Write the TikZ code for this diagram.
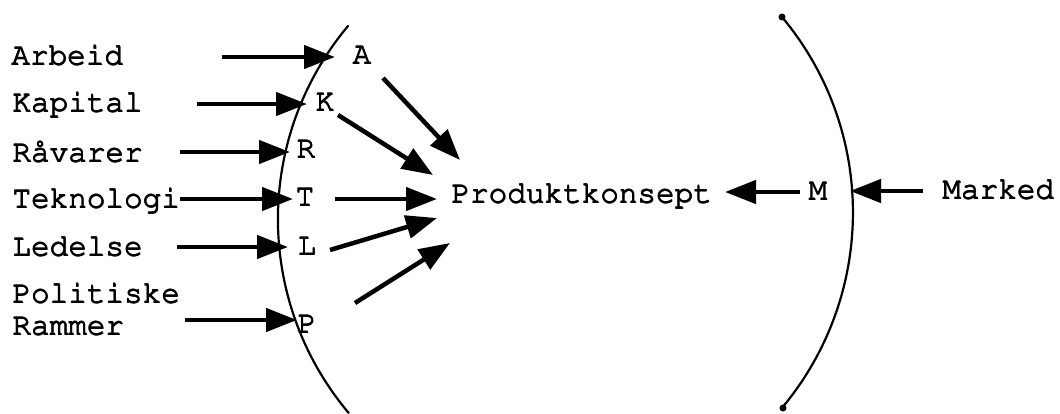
\documentclass[tikz,border=0pt]{standalone}
\usepackage[T1]{fontenc}
\usepackage{courier}
\usetikzlibrary{arrows.meta}
% typewriter text struck slightly heavier: the text is overprinted with small offsets
\newcommand\typed[1]{\rlap{#1}\rlap{\raisebox{0.8pt}{#1}}\rlap{\kern0.5pt\raisebox{0.4pt}{#1}}\kern0.9pt#1}
\begin{document}
\begin{tikzpicture}[x=1pt,y=-1pt,
  lbl/.style={font=\fontsize{31}{36}\selectfont\ttfamily, inner sep=0pt},
  arr/.style={line width=4.5pt, -{Triangle[length=31pt,width=23pt]}},
  rim/.style={line width=2.2pt, line cap=round}]
\useasboundingbox (0,0) rectangle (1060,413);

% factors on the left
\node[lbl, anchor=base west] (arbeid)  at (11,65)  {\typed{Arbeid}};
\node[lbl, anchor=base west] (kapital) at (12,112) {\typed{Kapital}};
\node[lbl, anchor=base west] (ravarer) at (12,162) {\typed{R\aa varer}};
\node[lbl, anchor=base west] (tekno)   at (12,208) {\typed{Teknologi}};
\node[lbl, anchor=base west] (ledelse) at (12,256) {\typed{Ledelse}};
\node[lbl, anchor=base west] (polit)   at (12,303) {\typed{Politiske}};
\node[lbl, anchor=base west] (rammer)  at (12,335) {\typed{Rammer}};

% letters just inside the left boundary
\node[lbl, anchor=base] (A) at (362,64)  {\typed{A}};
\node[lbl, anchor=base] (K) at (325,111) {\typed{K}};
\node[lbl, anchor=base] (R) at (306,158) {\typed{R}};
\node[lbl, anchor=base] (T) at (305,206) {\typed{T}};
\node[lbl, anchor=base] (L) at (307,255) {\typed{L}};
\node[lbl, anchor=base] (P) at (307,333) {\typed{P}};

% centre and market side
\node[lbl, anchor=base west] (prod)   at (451,203) {\typed{Produktkonsept}};
\node[lbl, anchor=base]      (M)      at (818,200) {\typed{M}};
\node[lbl, anchor=base west] (marked) at (942,199) {\typed{Marked}};

% boundaries
\draw[rim] (348,26) arc[start angle=140.1, end angle=220.1, radius=301pt];
\draw[rim] (782,17) arc[start angle=39.9, end angle=-39.8, radius=304.7pt];
\fill (782,17) circle (3.5pt);
\fill (783,408) circle (3.5pt);

% arrow ends
\coordinate (arbeidS) at (222,57);  \coordinate (arbeidE) at (335,57);
\coordinate (kapS)    at (197,104); \coordinate (kapE)    at (307,104);
\coordinate (ravS)    at (180,152); \coordinate (ravE)    at (290,152);
\coordinate (tekS)    at (180,199); \coordinate (tekE)    at (293,199);
\coordinate (ledS)    at (177,247); \coordinate (ledE)    at (288,247);
\coordinate (ramS)    at (185,320); \coordinate (ramE)    at (297,320);

\coordinate (aS) at (383,78);  \coordinate (aE) at (460,160);
\coordinate (kS) at (338,115); \coordinate (kE) at (433,175);
\coordinate (tS) at (335,199); \coordinate (tE) at (437,199);
\coordinate (lS) at (330,250); \coordinate (lE) at (437,218);
\coordinate (pS) at (355,303); \coordinate (pE) at (450,243);

\coordinate (mS) at (800,192); \coordinate (mE) at (725,192);
\coordinate (markS) at (923,191); \coordinate (markE) at (850,191);

% inputs crossing the boundary
\draw[arr] (arbeidS) -- (arbeidE);
\draw[arr] (kapS) -- (kapE);
\draw[arr] (ravS) -- (ravE);
\draw[arr] (tekS) -- (tekE);
\draw[arr] (ledS) -- (ledE);
\draw[arr] (ramS) -- (ramE);

% inputs into the product concept
\draw[arr] (aS) -- (aE);
\draw[arr] (kS) -- (kE);
\draw[arr] (tS) -- (tE);
\draw[arr] (lS) -- (lE);
\draw[arr] (pS) -- (pE);

% market side
\draw[arr] (mS) -- (mE);
\draw[arr] (markS) -- (markE);
\end{tikzpicture}
\end{document}
